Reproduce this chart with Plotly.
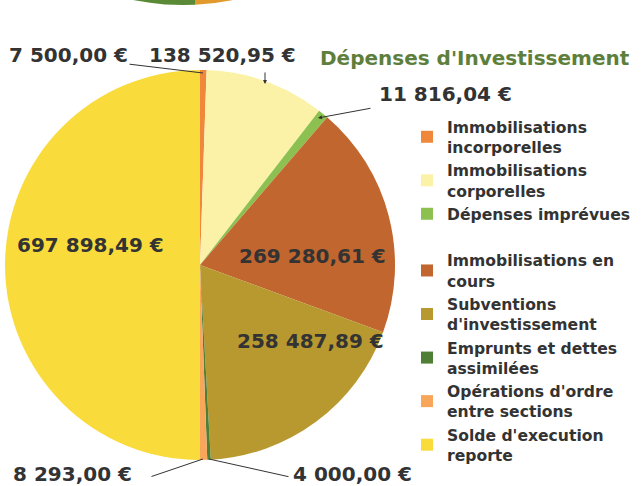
import plotly.graph_objects as go

# categories in clockwise order from 12 o'clock (" " = blank legend row in the original)
labels = ["Immobilisations<br>incorporelles", "Immobilisations<br>corporelles",
          "Dépenses imprévues", " ", "Immobilisations en<br>cours",
          "Subventions<br>d'investissement", "Emprunts et dettes<br>assimilées",
          "Opérations d'ordre<br>entre sections", "Solde d'execution<br>reporte"]
values = [7500.00, 138520.95, 11816.04, 0, 269280.61, 258487.89, 4000.00, 8293.00, 697898.49]
colors = ["#F0883C", "#FBF2A8", "#8CC152", "#FFFFFF", "#C0662E",
          "#B8992F", "#4F7F35", "#F7A65A", "#F9DC3C"]
value_text = ["7 500,00 €", "138 520,95 €", "11 816,04 €", "", "269 280,61 €",
              "258 487,89 €", "4 000,00 €", "8 293,00 €", "697 898,49 €"]

W, H = 641, 486
bold = dict(family="DejaVu Sans", size=20, color="#333333", weight="bold")

fig = go.Figure(go.Pie(
    labels=labels, values=values, sort=False, direction="clockwise", rotation=0,
    marker=dict(colors=colors, line=dict(width=0)),
    textinfo="none", hoverinfo="label+value",
    domain=dict(x=[5 / W, 395 / W], y=[1 - 460 / H, 1 - 70 / H]),
))

def px(x, y):
    return x / W, 1 - y / H

# value labels: (index, centre x, centre y) in pixels
label_pos = [(0, 68, 55), (1, 222, 55), (2, 445, 94), (4, 312, 256),
             (5, 310, 341), (6, 352, 474), (7, 72, 474), (8, 90, 245)]
for i, x, y in label_pos:
    ax_, ay_ = px(x, y)
    fig.add_annotation(x=ax_, y=ay_, xref="paper", yref="paper", text=value_text[i],
                       showarrow=False, font=bold, xanchor="center", yanchor="middle")

# leader lines
leaders = [((128, 64), (203, 73), False), ((265, 71), (265, 84), True),
           ((372, 108), (318, 118), True), ((150, 477), (203, 459), False),
           ((290, 477), (209, 459), False)]
for (x0, y0), (x1, y1), head in leaders:
    tx, ty = px(x1, y1)
    fig.add_annotation(x=tx, y=ty, xref="paper", yref="paper", ax=x0 - x1, ay=y0 - y1,
                       text="", showarrow=True, arrowhead=2 if head else 0,
                       arrowsize=0.8, arrowwidth=1, arrowcolor="#333333",
                       standoff=0, startstandoff=0)

# title
tx, ty = px(475, 58)
fig.add_annotation(x=tx, y=ty, xref="paper", yref="paper", text="Dépenses d'Investissement",
                   showarrow=False, xanchor="center", yanchor="middle",
                   font=dict(family="DejaVu Sans", size=20, color="#5E7F3C", weight="bold"))

# fragment of the previous chart at the very top of the page
def frag(pts, color):
    path = "M " + " L ".join(f"{x / W},{1 - y / H}" for x, y in pts) + " Z"
    fig.add_shape(type="path", path=path, xref="paper", yref="paper",
                  fillcolor=color, line=dict(width=0), layer="above")

frag([(133, -1), (133, 0), (150, 2.8), (165, 4.4), (183, 5), (195, 4.7), (195, -1)], "#5A8A35")
frag([(195, -1), (195, 4.7), (215, 3.0), (232, 0.2), (232, -1)], "#E39A2C")

fig.update_layout(
    width=W, height=H, margin=dict(l=0, r=0, t=0, b=0),
    paper_bgcolor="white", plot_bgcolor="white",
    legend=dict(x=407 / W, y=1 - 110 / H, xanchor="left", yanchor="top",
                font=dict(family="DejaVu Sans", size=15.6, color="#333333", weight="bold"),
                itemclick=False, tracegroupgap=0, bgcolor="rgba(0,0,0,0)"),
)

fig.write_html("out.html", config={"displayModeBar": False},
               post_script="document.body.style.margin='0';")
